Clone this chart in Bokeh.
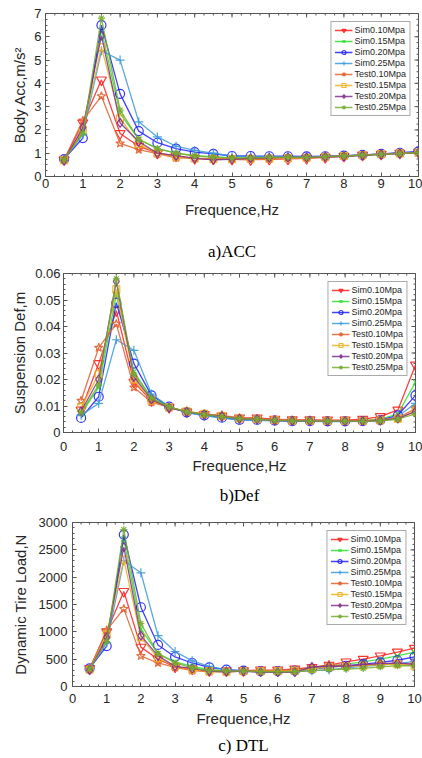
import numpy as np
from bokeh.plotting import figure
from bokeh.models import FixedTicker, PrintfTickFormatter, Range1d, Title
from bokeh.embed import file_html
from bokeh.resources import INLINE

# ---------------- data ----------------
freq = [0.5, 1.0, 1.5, 2.0, 2.5, 3.0, 3.5, 4.0, 4.5, 5.0,
        5.5, 6.0, 6.5, 7.0, 7.5, 8.0, 8.5, 9.0, 9.5, 10.0]

series_names = ["Sim0.10Mpa", "Sim0.15Mpa", "Sim0.20Mpa", "Sim0.25Mpa",
                "Test0.10Mpa", "Test0.15Mpa", "Test0.20Mpa", "Test0.25Mpa"]

# Body acceleration, m/s^2
acc_sim010 = [0.72, 2.30, 4.15, 1.85, 1.30, 1.00, 0.88, 0.78, 0.75, 0.74, 0.72, 0.74, 0.76, 0.78, 0.82, 0.87, 0.92, 0.96, 1.00, 1.04]
acc_sim015 = [0.72, 1.90, 6.30, 2.70, 1.60, 1.20, 1.00, 0.90, 0.85, 0.80, 0.80, 0.80, 0.80, 0.80, 0.84, 0.88, 0.92, 0.96, 1.00, 1.04]
acc_sim020 = [0.75, 1.65, 6.50, 3.55, 1.95, 1.45, 1.20, 1.05, 0.97, 0.88, 0.88, 0.87, 0.87, 0.86, 0.87, 0.90, 0.93, 0.97, 1.02, 1.08]
acc_sim025 = [0.75, 1.80, 5.40, 5.00, 2.35, 1.70, 1.30, 1.12, 1.00, 0.88, 0.86, 0.85, 0.85, 0.85, 0.87, 0.89, 0.92, 0.96, 1.00, 1.05]
acc_test010 = [0.72, 2.40, 3.45, 1.42, 1.15, 0.98, 0.80, 0.78, 0.76, 0.76, 0.75, 0.76, 0.78, 0.80, 0.83, 0.87, 0.92, 0.96, 1.00, 1.02]
acc_test015 = [0.70, 2.00, 5.55, 2.50, 1.40, 1.00, 0.85, 0.78, 0.75, 0.75, 0.76, 0.77, 0.79, 0.80, 0.84, 0.88, 0.92, 0.96, 0.99, 1.02]
acc_test020 = [0.68, 2.10, 6.05, 2.30, 1.50, 1.00, 0.90, 0.78, 0.72, 0.74, 0.78, 0.80, 0.82, 0.82, 0.84, 0.87, 0.91, 0.95, 0.98, 1.02]
acc_test025 = [0.72, 1.85, 6.80, 2.85, 1.60, 1.20, 1.00, 0.88, 0.82, 0.80, 0.80, 0.82, 0.83, 0.82, 0.85, 0.88, 0.92, 0.95, 0.98, 1.02]

# Suspension deflection, m
def_sim010 = [0.0085, 0.026, 0.046, 0.019, 0.012, 0.0095, 0.0078, 0.0068, 0.0062, 0.0055, 0.0055, 0.0050, 0.0048, 0.0048, 0.0047, 0.0047, 0.0050, 0.0060, 0.0085, 0.0255]
def_sim015 = [0.0070, 0.017, 0.052, 0.023, 0.013, 0.0097, 0.0078, 0.0068, 0.0060, 0.0052, 0.0050, 0.0047, 0.0045, 0.0045, 0.0044, 0.0044, 0.0045, 0.0050, 0.0070, 0.0190]
def_sim020 = [0.0055, 0.0135, 0.049, 0.026, 0.014, 0.0098, 0.0076, 0.0065, 0.0056, 0.0048, 0.0048, 0.0045, 0.0043, 0.0043, 0.0042, 0.0042, 0.0043, 0.0047, 0.0065, 0.0140]
def_sim025 = [0.0065, 0.011, 0.035, 0.031, 0.0145, 0.0098, 0.0075, 0.0063, 0.0055, 0.0047, 0.0046, 0.0044, 0.0042, 0.0042, 0.0041, 0.0041, 0.0042, 0.0045, 0.0060, 0.0110]
def_test010 = [0.0120, 0.032, 0.041, 0.017, 0.0115, 0.0095, 0.0080, 0.0070, 0.0065, 0.0055, 0.0052, 0.0048, 0.0046, 0.0046, 0.0045, 0.0045, 0.0045, 0.0048, 0.0055, 0.0090]
def_test015 = [0.0095, 0.022, 0.054, 0.020, 0.012, 0.0095, 0.0080, 0.0070, 0.0063, 0.0053, 0.0050, 0.0047, 0.0045, 0.0045, 0.0044, 0.0044, 0.0044, 0.0046, 0.0052, 0.0080]
def_test020 = [0.0080, 0.020, 0.057, 0.021, 0.0125, 0.0093, 0.0078, 0.0068, 0.0062, 0.0052, 0.0050, 0.0046, 0.0044, 0.0044, 0.0043, 0.0043, 0.0043, 0.0045, 0.0052, 0.0080]
def_test025 = [0.0075, 0.018, 0.058, 0.022, 0.013, 0.0097, 0.0078, 0.0067, 0.0060, 0.0052, 0.0050, 0.0046, 0.0044, 0.0044, 0.0043, 0.0043, 0.0042, 0.0044, 0.0050, 0.0070]

# Dynamic tire load, N
dtl_sim010 = [330, 1000, 1740, 720, 500, 360, 320, 290, 290, 290, 300, 300, 320, 350, 390, 450, 500, 560, 630, 700]
dtl_sim015 = [320, 850, 2700, 1050, 600, 450, 370, 310, 290, 280, 280, 280, 290, 330, 370, 410, 450, 500, 560, 630]
dtl_sim020 = [330, 740, 2780, 1450, 760, 540, 430, 350, 310, 290, 280, 280, 290, 320, 350, 380, 410, 440, 480, 540]
dtl_sim025 = [330, 800, 2300, 2080, 930, 640, 470, 370, 310, 280, 270, 260, 270, 290, 300, 340, 370, 390, 420, 460]
dtl_test010 = [320, 1030, 1420, 560, 430, 350, 290, 270, 270, 280, 290, 290, 300, 340, 400, 380, 390, 410, 420, 400]
dtl_test015 = [310, 950, 2320, 900, 520, 370, 310, 280, 270, 280, 280, 280, 290, 320, 360, 370, 380, 400, 410, 380]
dtl_test020 = [300, 900, 2550, 930, 560, 370, 330, 280, 270, 280, 260, 260, 260, 360, 370, 370, 400, 420, 430, 410]
dtl_test025 = [320, 820, 2870, 1150, 600, 430, 340, 290, 280, 280, 270, 270, 270, 290, 310, 320, 330, 360, 380, 380]

x_ticks = [0, 1, 2, 3, 4, 5, 6, 7, 8, 9, 10]
acc_ticks = [0, 1, 2, 3, 4, 5, 6, 7]
def_ticks = [0, 0.01, 0.02, 0.03, 0.04, 0.05, 0.06]
dtl_ticks = [0, 500, 1000, 1500, 2000, 2500, 3000]

captions = ["a)ACC", "b)Def", "c) DTL"]
y_labels = ["Body Acc,m/s\u00b2", "Suspension Def,m", "Dynamic Tire Load,N"]
x_label = "Frequence,Hz"

# ---------------- style ----------------
colors = ["#ff2020", "#2ee02e", "#1f1fff", "#3a9ad9",
          "#e0602e", "#ecb01f", "#7e2f8e", "#77ac30"]
markers = ["inverted_triangle", "x", "circle", "cross",
           "star", "square", "diamond", "asterisk"]
msizes = [10, 7, 9, 9, 9, 7, 9, 7]
SANS = "Liberation Sans"
SERIF = "Liberation Serif"
TXT = "#262626"
EDGE = "#555555"


def style_axis(ax, ticks, minor):
    ax.ticker = FixedTicker(ticks=ticks, minor_ticks=minor)
    ax.formatter = PrintfTickFormatter(format="%g")
    ax.major_tick_in = 4
    ax.major_tick_out = 0
    ax.minor_tick_in = 2
    ax.minor_tick_out = 0
    ax.axis_line_color = None
    ax.major_tick_line_color = EDGE
    ax.minor_tick_line_color = EDGE
    ax.major_label_text_font = SANS
    ax.major_label_text_font_size = "13px"
    ax.major_label_text_color = TXT
    ax.axis_label_text_font = SANS
    ax.axis_label_text_font_size = "15px"
    ax.axis_label_text_font_style = "normal"
    ax.axis_label_text_color = TXT


def make_panel(data, ymax, yticks, yminor, ylabel, caption, height,
               bl, br, bt, bb, x_std, x_lstd, y_std, y_lstd, cap_std, cap_dx,
               cap_lift=False):
    p = figure(width=422, height=height,
               x_range=Range1d(0, 10), y_range=Range1d(0, ymax),
               output_backend="svg", toolbar_location=None,
               min_border_left=bl, min_border_right=br,
               min_border_top=bt, min_border_bottom=bb)
    p.grid.visible = False
    p.outline_line_color = EDGE
    p.outline_line_width = 1
    p.background_fill_color = "white"
    p.border_fill_color = "white"

    xminor = list(np.arange(0, 10.01, 0.25))
    style_axis(p.xaxis[0], x_ticks, xminor)
    style_axis(p.yaxis[0], yticks, yminor)
    p.xaxis[0].axis_label = x_label
    p.yaxis[0].axis_label = ylabel
    p.xaxis[0].major_label_standoff = x_std
    p.xaxis[0].axis_label_standoff = x_lstd
    p.yaxis[0].major_label_standoff = y_std
    p.yaxis[0].axis_label_standoff = y_lstd

    # inward ticks on the top and right edges of the box (half clipped by the frame)
    p.scatter(x_ticks, [ymax] * len(x_ticks), marker="dash", angle=np.pi / 2,
              size=8, line_color=EDGE, line_width=1)
    p.scatter(xminor, [ymax] * len(xminor), marker="dash", angle=np.pi / 2,
              size=4, line_color=EDGE, line_width=1)
    p.scatter([10] * len(yticks), yticks, marker="dash",
              size=8, line_color=EDGE, line_width=1)
    p.scatter([10] * len(yminor), yminor, marker="dash",
              size=4, line_color=EDGE, line_width=1)

    for name, ys, c, m, s in zip(series_names, data, colors, markers, msizes):
        p.line(freq, ys, line_color=c, line_width=1.3, line_alpha=0.85,
               legend_label=name)
        p.scatter(freq, ys, marker=m, size=s, line_color=c, fill_color=None,
                  line_width=1.2, line_alpha=0.9, legend_label=name)

    lg = p.legend[0]
    lg.location = "top_right"
    lg.margin = 8
    lg.padding = 3
    lg.spacing = 1
    lg.glyph_width = 18
    lg.glyph_height = 10
    lg.label_height = 10
    lg.label_standoff = 2
    lg.label_text_font = SANS
    lg.label_text_font_size = "9px"
    lg.label_text_color = TXT
    lg.border_line_color = EDGE
    lg.border_line_width = 1
    lg.background_fill_alpha = 1

    # caption under the panel (a leading empty line leaves a gap when needed)
    text = "\n" + caption if cap_lift else caption
    p.add_layout(Title(text=text, align="center", offset=cap_dx,
                       standoff=cap_std, text_font=SERIF,
                       text_font_size="17px", text_font_style="normal",
                       text_line_height=1.0, text_color="black"), "below")
    return p


p1 = make_panel([acc_sim010, acc_sim015, acc_sim020, acc_sim025,
                 acc_test010, acc_test015, acc_test020, acc_test025],
                7, acc_ticks, list(np.arange(0, 7.01, 0.25)),
                y_labels[0], captions[0], 265,
                45, 4, 13, 89, 2, 10, 4, 3, 0, -15, cap_lift=True)
p2 = make_panel([def_sim010, def_sim015, def_sim020, def_sim025,
                 def_test010, def_test015, def_test020, def_test025],
                0.06, def_ticks, list(np.arange(0, 0.0601, 0.002)),
                y_labels[1], captions[1], 247,
                63, 7, 8, 80, 9, 3, 3, 4, 14, -24)
p3 = make_panel([dtl_sim010, dtl_sim015, dtl_sim020, dtl_sim025,
                 dtl_test010, dtl_test015, dtl_test020, dtl_test025],
                3000, dtl_ticks, list(np.arange(0, 3001, 100)),
                y_labels[2], captions[2], 246,
                72, 8, 10, 72, 7, 4, 5, 7, 8, -33)

p = [p1, p2, p3]
open("out.html", "w").write(file_html(p, INLINE))
